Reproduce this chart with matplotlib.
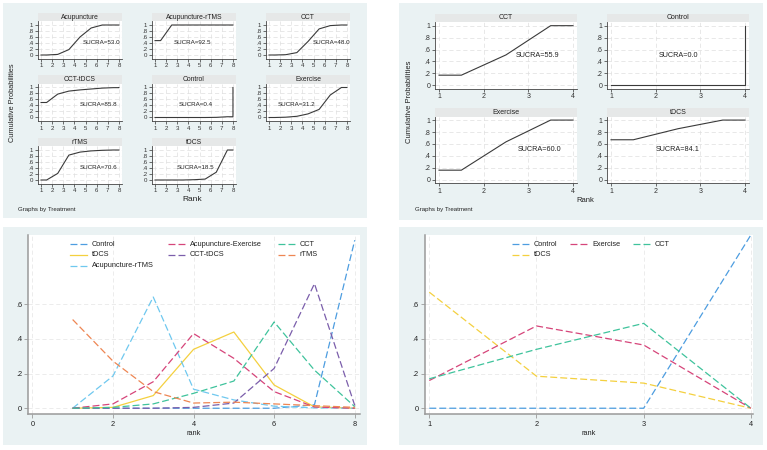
import numpy as np
import matplotlib
matplotlib.use('Agg')
import matplotlib.pyplot as plt
from matplotlib.patches import Rectangle
from matplotlib.lines import Line2D

plt.rcParams['font.family'] = ['Liberation Sans', 'DejaVu Sans']
plt.rcParams['lines.scale_dashes'] = False

# ---- data: cumulative ranking probabilities, 8-treatment network ----
treat8 = ['Acupuncture', 'Acupuncture-rTMS', 'CCT', 'CCT-tDCS',
          'Control', 'Exercise', 'rTMS', 'tDCS']
cum_acupuncture = [0.0, 0.02, 0.18, 0.60, 0.90, 1.0, 1.0, 1.0]
cum_acu_rtms = [0.48, 1.0, 1.0, 1.0, 1.0, 1.0, 1.0, 1.0]
cum_cct = [0.0, 0.01, 0.08, 0.45, 0.87, 0.98, 1.0, 1.0]
cum_cct_tdcs = [0.50, 0.78, 0.88, 0.92, 0.95, 0.98, 0.995, 1.0]
cum_control = [0.0, 0.0, 0.0, 0.0, 0.0, 0.005, 0.025, 1.0]
cum_exercise = [0.0, 0.01, 0.04, 0.12, 0.27, 0.75, 1.0, 1.0]
cum_rtms = [0.0, 0.22, 0.83, 0.93, 0.97, 0.99, 1.0, 1.0]
cum_tdcs = [0.0, 0.0, 0.0, 0.01, 0.03, 0.26, 1.0, 1.0]
sucra8 = [53.0, 92.5, 48.0, 85.8, 0.4, 31.2, 70.6, 18.5]

# ---- cumulative ranking probabilities, 4-treatment network ----
treat4 = ['CCT', 'Control', 'Exercise', 'tDCS']
cum4_cct = [0.17, 0.51, 1.0, 1.0]
cum4_control = [0.0, 0.0, 0.0, 1.0]
cum4_exercise = [0.16, 0.635, 1.0, 1.0]
cum4_tdcs = [0.67, 0.855, 1.0, 1.0]
sucra4 = [55.9, 0.0, 60.0, 84.1]

# ---- rank probabilities (bottom panels) ----
ranks8 = [1, 2, 3, 4, 5, 6, 7, 8]
p_control = [0.0, 0.0, 0.0, 0.0, 0.0, 0.0, 0.02, 0.97]
p_tdcs = [0.0, 0.005, 0.073, 0.34, 0.44, 0.134, 0.008, 0.0]
p_acu_rtms = [0.0, 0.186, 0.642, 0.11, 0.048, 0.012, 0.002, 0.0]
p_acu_exercise = [0.0, 0.025, 0.153, 0.431, 0.288, 0.096, 0.007, 0.0]
p_cct_tdcs = [0.0, 0.0, 0.0, 0.005, 0.03, 0.23, 0.719, 0.016]
p_cct = [0.0, 0.005, 0.025, 0.086, 0.157, 0.498, 0.22, 0.009]
p_rtms = [0.512, 0.272, 0.096, 0.03, 0.035, 0.025, 0.015, 0.005]

ranks4 = [1, 2, 3, 4]
p4_control = [0.0, 0.0, 0.0, 1.0]
p4_tdcs = [0.67, 0.185, 0.145, 0.0]
p4_exercise = [0.16, 0.475, 0.365, 0.0]
p4_cct = [0.17, 0.34, 0.49, 0.0]

C_CONTROL = '#4d9de0'
C_ACUEX = '#d6457a'
C_CCT = '#3fc39c'
C_TDCS = '#f4d03f'
C_CCTTDCS = '#7b5eab'
C_RTMS = '#ee8653'
C_ACURTMS = '#6fc8ef'
BG = '#eaf2f3'
STRIP = '#e6e8e8'
DASH = (5, 2.2)

W, H = 767, 450
fig = plt.figure(figsize=(W / 100, H / 100), dpi=100)


def rect(x0, y0, x1, y1):
    return [x0 / W, 1 - y1 / H, (x1 - x0) / W, (y1 - y0) / H]


def box(x0, y0, x1, y1, color):
    fig.add_artist(Rectangle((x0 / W, 1 - y1 / H), (x1 - x0) / W, (y1 - y0) / H,
                             transform=fig.transFigure, facecolor=color,
                             edgecolor='none', zorder=0))


def ftext(x, y, s, **kw):
    fig.text(x / W, 1 - y / H, s, **kw)


def stata_fmt(v):
    if abs(v) < 1e-9:
        return '0'
    if abs(v - 1) < 1e-9:
        return '1'
    return ('%.1f' % v).lstrip('0')


for b in [(3, 3, 367, 218), (399, 3, 763, 220), (3, 227, 367, 445), (399, 227, 763, 445)]:
    box(*b, BG)


def small_panel(x0, y0, x1, y1, name, cum, sucra, tx, ty, xlim, ylim,
                fs_tick, fs_title, fs_text, strip_h):
    box(x0, y0 - strip_h, x1, y0, STRIP)
    ftext((x0 + x1) / 2, y0 - strip_h / 2, name, ha='center', va='center',
          fontsize=fs_title, color='#222222')
    ax = fig.add_axes(rect(x0, y0, x1, y1))
    ax.set_facecolor('white')
    n = len(cum)
    r = np.arange(1, n + 1)
    xs = np.concatenate([[1], r[:-1] + 0.5, [n, n]])
    ys = [cum[0]] + list(cum[:-1]) + [cum[-2], cum[-1]]
    ax.plot(xs, ys, color='#3a3a3a', lw=0.8)
    ax.set_xlim(*xlim)
    ax.set_ylim(*ylim)
    ax.set_xticks(r)
    ax.set_yticks([0, .2, .4, .6, .8, 1])
    ax.set_yticklabels([stata_fmt(v) for v in [0, .2, .4, .6, .8, 1]])
    ax.grid(True, color='#dedede', lw=0.5, ls=(0, (3, 2)))
    for s in ['top', 'right']:
        ax.spines[s].set_visible(False)
    for s in ['left', 'bottom']:
        ax.spines[s].set_color('#444444')
        ax.spines[s].set_linewidth(0.6)
    ax.tick_params(length=2, width=0.5, pad=1.2, labelsize=fs_tick,
                   colors='#333333')
    ax.text(tx, ty, 'SUCRA=%.1f' % sucra, ha='center', va='center',
            fontsize=fs_text, color='#222222')
    return ax


# ---- top-left: 8-treatment cumulative panels ----
cums8 = [cum_acupuncture, cum_acu_rtms, cum_cct, cum_cct_tdcs,
         cum_control, cum_exercise, cum_rtms, cum_tdcs]
tx8 = [6.4, 4.4, 6.6, 6.2, 4.65, 3.5, 6.2, 4.65]
for i, name in enumerate(treat8):
    row, col = divmod(i, 3)
    x0 = 37.7 + 114 * col
    y0 = 21.4 + 62.5 * row
    small_panel(x0, y0, x0 + 84.6, y0 + 37.2, name, cums8[i], sucra8[i],
                tx8[i], 0.42, (0.7, 8.3), (-0.12, 1.12), 4.4, 4.9, 4.5, 8.4)

ftext(13, 103, 'Cumulative Probabilities', rotation=90, ha='center',
      va='center', fontsize=5.3, color='#222222')
ftext(192, 199, 'Rank', ha='center', va='center', fontsize=6, color='#222222')
ftext(18, 209, 'Graphs by Treatment', ha='left', va='center', fontsize=4.4,
      color='#222222')

# ---- top-right: 4-treatment cumulative panels ----
cums4 = [cum4_cct, cum4_control, cum4_exercise, cum4_tdcs]
tx4 = [3.2, 2.5, 3.25, 2.5]
for i, name in enumerate(treat4):
    row, col = divmod(i, 2)
    x0 = 435 + 172 * col
    y0 = 22.1 + 94.4 * row
    small_panel(x0, y0, x0 + 142, y0 + 66.8, name, cums4[i], sucra4[i],
                tx4[i], 0.5, (0.91, 4.09), (-0.06, 1.06), 5.0, 5.0, 5.2, 8.5)

ftext(410, 102, 'Cumulative Probabilities', rotation=90, ha='center',
      va='center', fontsize=5.5, color='#222222')
ftext(585, 200, 'Rank', ha='center', va='center', fontsize=5.5, color='#222222')
ftext(415, 209, 'Graphs by Treatment', ha='left', va='center', fontsize=4.4,
      color='#222222')


# ---- bottom panels: rank probabilities ----
def rank_axes(x0, y0, x1, y1, xlim, xticks):
    ax = fig.add_axes(rect(x0, y0, x1, y1))
    ax.set_facecolor('white')
    ax.set_xlim(*xlim)
    ax.set_ylim(-0.035, 1.0)
    ax.set_xticks(xticks)
    ax.set_yticks([0, .2, .4, .6])
    ax.set_yticklabels([stata_fmt(v) for v in [0, .2, .4, .6]])
    ax.grid(True, color='#e4e4e4', lw=0.5, ls=(0, (3, 2)))
    for s in ['top', 'right']:
        ax.spines[s].set_visible(False)
    for s in ['left', 'bottom']:
        ax.spines[s].set_color('#9a9a9a')
        ax.spines[s].set_linewidth(1.1)
    ax.tick_params(length=3, width=0.6, pad=1.5, labelsize=5.3,
                   colors='#9a9a9a', labelcolor='#222222')
    ax.set_xlabel('rank', fontsize=5.3, color='#222222', labelpad=2)
    return ax


def legend_entry(x, y, label, color, dashed=True):
    ls = (0, DASH) if dashed else '-'
    fig.add_artist(Line2D([x / W, (x + 17) / W], [1 - y / H, 1 - y / H],
                          transform=fig.transFigure, color=color, lw=0.9,
                          ls=ls))
    ftext(x + 22, y, label, ha='left', va='center', fontsize=5.3,
          color='#222222')


ax = rank_axes(28.3, 235, 360, 414.3, (-0.1, 8.13), [0, 2, 4, 6, 8])
series8 = [('Control', p_control, C_CONTROL, True),
           ('tDCS', p_tdcs, C_TDCS, False),
           ('Acupuncture-rTMS', p_acu_rtms, C_ACURTMS, True),
           ('Acupuncture-Exercise', p_acu_exercise, C_ACUEX, True),
           ('CCT-tDCS', p_cct_tdcs, C_CCTTDCS, True),
           ('CCT', p_cct, C_CCT, True),
           ('rTMS', p_rtms, C_RTMS, True)]
for label, vals, color, dashed in series8:
    if dashed:
        ax.plot(ranks8, vals, color=color, lw=0.9, ls=(0, DASH))
    else:
        ax.plot(ranks8, vals, color=color, lw=0.9)

leg_cols8 = [70, 168, 278]
leg_rows = [244, 254.5, 265.5]
slots8 = [(0, 0), (0, 1), (0, 2), (1, 0), (1, 1), (2, 0), (2, 1)]
for (label, vals, color, dashed), (c, r) in zip(series8, slots8):
    legend_entry(leg_cols8[c], leg_rows[r], label, color, dashed)

ax = rank_axes(425, 235, 753, 414.3, (0.96, 4.02), [1, 2, 3, 4])
series4 = [('Control', p4_control, C_CONTROL),
           ('tDCS', p4_tdcs, C_TDCS),
           ('Exercise', p4_exercise, C_ACUEX),
           ('CCT', p4_cct, C_CCT)]
for label, vals, color in series4:
    ax.plot(ranks4, vals, color=color, lw=0.9, ls=(0, DASH))

leg_cols4 = [512, 570, 633]
slots4 = [(0, 0), (0, 1), (1, 0), (2, 0)]
for (label, vals, color), (c, r) in zip(series4, slots4):
    legend_entry(leg_cols4[c], leg_rows[r], label, color)

fig.savefig('out.png', dpi=100, facecolor='white')
